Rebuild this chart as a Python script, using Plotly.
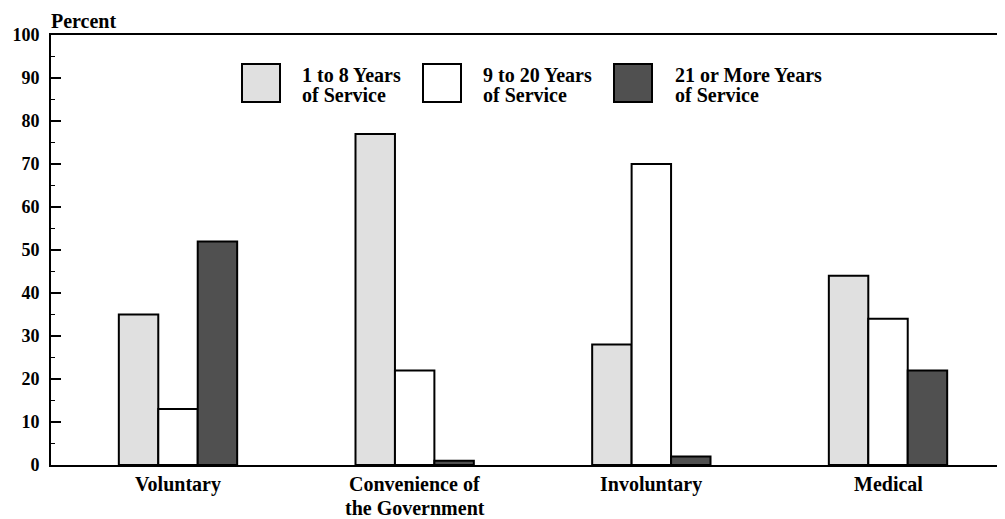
import plotly.graph_objects as go

categories = ["Voluntary", "Convenience of the Government", "Involuntary", "Medical"]
category_lines = [["Voluntary"], ["Convenience of", "the Government"], ["Involuntary"], ["Medical"]]
series_names = ["1 to 8 Years of Service", "9 to 20 Years of Service", "21 or More Years of Service"]
series_lines = [["1 to 8 Years", "of Service"], ["9 to 20 Years", "of Service"], ["21 or More Years", "of Service"]]
years_1_8 = [35, 77, 28, 44]
years_9_20 = [13, 22, 70, 34]
years_21_plus = [52, 1, 2, 22]
series_colors = ["#e0e0e0", "#ffffff", "#505050"]
y_ticks = [0, 10, 20, 30, 40, 50, 60, 70, 80, 90, 100]

# the page body has an 8px default margin, so the figure is shrunk to fit the window
OFF = 8
WIN_W, WIN_H = 1005, 519
PL, PR, PT, PB = 51, 1005, 35, 465  # plot area in window pixels
W, H = WIN_W - OFF, WIN_H - OFF
ML, MT = PL - OFF, PT - OFF
MR = WIN_W - PR
MB = WIN_H - PB
FONT = "Liberation Serif"

fig = go.Figure()
for name, vals, col in zip(series_names, [years_1_8, years_9_20, years_21_plus], series_colors):
    fig.add_trace(go.Bar(
        x=categories, y=vals, name=name,
        marker=dict(color=col, line=dict(color="black", width=2)),
        showlegend=False,
    ))

# axis range so group centres land where the reference has them
x0_px, step_px = 178, 236.67
xr = [(PL - x0_px) / step_px, (PR - x0_px) / step_px]

fig.update_layout(
    width=W, height=H,
    margin=dict(l=ML, r=MR, t=MT, b=MB, pad=0),
    paper_bgcolor="white", plot_bgcolor="white",
    barmode="group", bargap=0.5, bargroupgap=0,
    font=dict(family=FONT, size=20, color="black"),
    xaxis=dict(
        type="category", range=xr,
        showline=True, linecolor="black", linewidth=2, mirror=True,
        ticks="", showgrid=False, zeroline=False, showticklabels=False,
    ),
    yaxis=dict(
        range=[0, 100], tickvals=y_ticks,
        showline=True, linecolor="black", linewidth=2,
        ticks="inside", ticklen=10, tickwidth=2, tickcolor="black",
        minor=dict(ticks="inside", ticklen=4, tickwidth=1, tickcolor="black", dtick=5, showgrid=False),
        showgrid=False, zeroline=False,
        tickfont=dict(family=FONT, size=18, color="black", weight="bold"),
        ticklabelstandoff=6,
    ),
)

def px_x(p):
    return (p - PL) / (PR - PL)

def px_y(p):
    return (PB - p) / (PB - PT)

# y axis title
fig.add_annotation(
    text="<b>Percent</b>", xref="paper", yref="paper",
    x=px_x(49), y=px_y(20.5), xanchor="left", yanchor="middle",
    showarrow=False, font=dict(family=FONT, size=20, color="black"),
)

# category labels, one annotation per line for tight leading
label_line_y = [484, 507.5]
for cat, lines in zip(categories, category_lines):
    for i, line in enumerate(lines):
        fig.add_annotation(
            text="<b>" + line + "</b>", xref="x", yref="paper",
            x=cat, y=px_y(label_line_y[i]), xanchor="center", yanchor="middle",
            showarrow=False, font=dict(family=FONT, size=20, color="black"),
        )

# legend drawn as shapes + text
legend_box_x = [242, 423, 614]
legend_text_x = [300, 481, 673]
legend_line_y = [75.5, 94.5]
box_top, box_bot = 64, 102
for bx, tx, lines, col in zip(legend_box_x, legend_text_x, series_lines, series_colors):
    fig.add_shape(
        type="rect", xref="paper", yref="paper",
        x0=px_x(bx), x1=px_x(bx + 38), y0=px_y(box_bot), y1=px_y(box_top),
        fillcolor=col, line=dict(color="black", width=2),
    )
    for i, line in enumerate(lines):
        fig.add_annotation(
            text="<b>" + line + "</b>", xref="paper", yref="paper",
            x=px_x(tx), y=px_y(legend_line_y[i]), xanchor="left", yanchor="middle",
            showarrow=False, font=dict(family=FONT, size=20, color="black"),
        )

fig.write_html("out.html")
